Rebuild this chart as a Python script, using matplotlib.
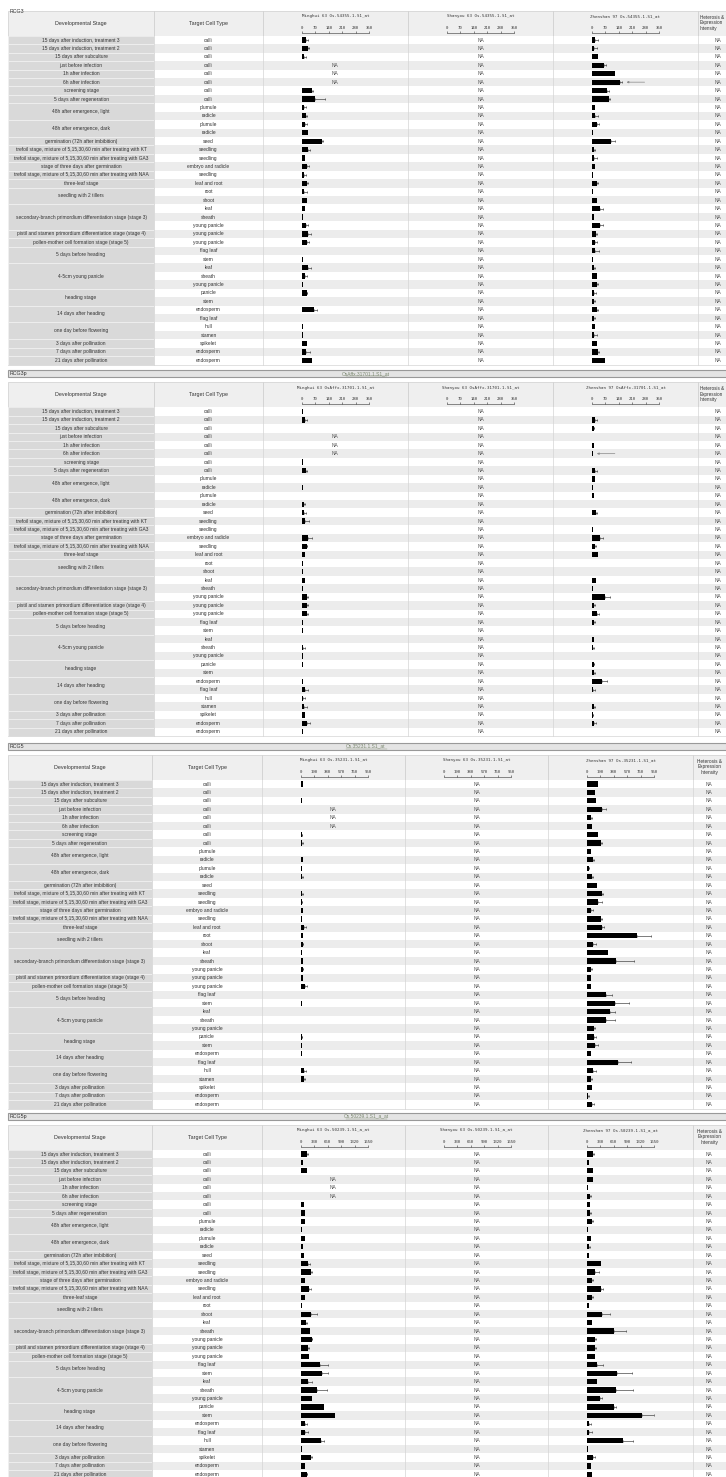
import numpy as np
import matplotlib.pyplot as plt
from matplotlib.patches import Rectangle

# ---- table rows (same in every panel) ----
stages = [("15 days after induction, treatment 3", 1),
          ("15 days after induction, treatment 2", 1),
          ("15 days after subculture", 1),
          ("just before infection", 1),
          ("1h after infection", 1),
          ("6h after infection", 1),
          ("screening stage", 1),
          ("5 days after regeneration", 1),
          ("48h after emergence, light", 2),
          ("48h after emergence, dark", 2),
          ("germination (72h after imbibition)", 1),
          ("trefoil stage, mixture of 5,15,30,60 min after treating with KT", 1),
          ("trefoil stage, mixture of 5,15,30,60 min after treating with GA3", 1),
          ("stage of three days after germination", 1),
          ("trefoil stage, mixture of 5,15,30,60 min after treating with NAA", 1),
          ("three-leaf stage", 1),
          ("seedling with 2 tillers", 2),
          ("secondary-branch primordium differentiation stage (stage 3)", 3),
          ("pistil and stamen primordium differentiation stage (stage 4)", 1),
          ("pollen-mother cell formation stage (stage 5)", 1),
          ("5 days before heading", 2),
          ("4-5cm young panicle", 3),
          ("heading stage", 2),
          ("14 days after heading", 2),
          ("one day before flowering", 2),
          ("3 days after pollination", 1),
          ("7 days after pollination", 1),
          ("21 days after pollination", 1)]

cell_types = ["calli", "calli", "calli", "calli", "calli", "calli", "calli", "calli",
              "plumule", "radicle", "plumule", "radicle", "seed", "seedling", "seedling",
              "embryo and radicle", "seedling", "leaf and root", "root", "shoot", "leaf",
              "sheath", "young panicle", "young panicle", "young panicle", "flag leaf", "stem",
              "leaf", "sheath", "young panicle", "panicle", "stem", "endosperm", "flag leaf",
              "hull", "stamen", "spikelet", "endosperm", "endosperm"]

panel_names = ["RCG3", "RCG3p", "RCG5", "RCG5p"]
probe_ids = ["Os.54355.1.S1_at", "OsAffx.31701.1.S1_at", "Os.35231.1.S1_at", "Os.50239.1.S1_a_at"]
axis_ticks = [[0, 70, 140, 210, 280, 350], [0, 70, 140, 210, 280, 350],
              [0, 190, 380, 570, 760, 950], [0, 330, 660, 990, 1320, 1650]]

nan = np.nan
# ---- expression values (NA = nan) and upper error ----
minghui_rcg3 = [22, 35, 12, nan, nan, nan, 52, 69, 12, 22, 17, 35, 104, 35, 17, 26, 14, 26, 14, 26,
                19, 5, 22, 35, 26, 3, 5, 35, 17, 9, 26, 3, 66, 3, 7, 7, 26, 21, 55]
minghui_rcg3_err = [13, 2, 8, 0, 0, 0, 8, 52, 8, 4, 9, 0, 8, 8, 0, 14, 7, 9, 15, 0,
                    0, 0, 11, 12, 12, 0, 0, 12, 12, 0, 3, 0, 14, 0, 0, 0, 0, 22, 0]
zhenshan_rcg3 = [19, 14, 33, 62, 123, 145, 81, 90, 19, 19, 29, 5, 100, 12, 14, 17, 5, 26, 5, 26,
                 43, 14, 43, 21, 17, 17, 9, 12, 26, 26, 12, 12, 26, 12, 17, 14, 26, 35, 69]
zhenshan_rcg3_err = [14, 14, 0, 11, 0, 14, 9, 3, 0, 14, 7, 0, 21, 4, 12, 0, 0, 9, 0, 0,
                     18, 0, 18, 8, 12, 21, 0, 4, 0, 9, 9, 7, 5, 4, 0, 12, 0, 5, 0]

minghui_rcg3p = [5, 17, 2, nan, nan, nan, 7, 22, 3, 9, 2, 12, 14, 17, 2, 35, 26, 16, 7, 9,
                 16, 7, 26, 26, 26, 7, 5, 2, 9, 7, 9, 3, 9, 17, 9, 12, 16, 26, 7]
minghui_rcg3p_err = [0, 9, 0, 0, 0, 0, 0, 6, 0, 0, 0, 7, 8, 21, 0, 19, 3, 0, 0, 0,
                     0, 0, 9, 7, 9, 0, 0, 0, 8, 0, 0, 0, 0, 16, 7, 14, 0, 17, 0]
zhenshan_rcg3p = [3, 17, 12, 2, 12, 5, 2, 17, 17, 9, 10, 2, 22, 3, 5, 43, 17, 31, 3, 2,
                  22, 5, 69, 14, 26, 10, 2, 14, 7, 3, 10, 12, 52, 9, 2, 12, 5, 14, 3]
zhenshan_rcg3p_err = [0, 9, 2, 0, 0, 0, 0, 9, 0, 0, 0, 0, 7, 0, 0, 18, 4, 0, 0, 0,
                      0, 0, 26, 5, 14, 6, 0, 0, 3, 0, 4, 7, 29, 7, 0, 5, 4, 7, 0]

minghui_rcg5 = [37, 9, 14, nan, nan, nan, 14, 23, 5, 37, 19, 23, 9, 23, 14, 37, 14, 51, 33, 28,
                14, 37, 28, 33, 61, 5, 19, 9, 9, 5, 14, 19, 23, 9, 51, 47, 5, 5, 5]
minghui_rcg5_err = [0, 0, 0, 0, 0, 0, 9, 9, 0, 0, 0, 5, 0, 14, 9, 0, 0, 19, 0, 9,
                    0, 0, 9, 0, 32, 0, 0, 0, 0, 0, 9, 0, 0, 0, 24, 14, 0, 0, 0]
zhenshan_rcg5 = [163, 117, 135, 219, 65, 79, 163, 196, 65, 89, 28, 70, 149, 219, 163, 65, 196,
                 219, 708, 93, 303, 419, 56, 65, 56, 266, 405, 322, 266, 103, 103, 112, 56, 443,
                 93, 56, 79, 23, 79]
zhenshan_rcg5_err = [0, 0, 0, 47, 14, 0, 0, 14, 0, 14, 9, 19, 0, 9, 56, 23, 14, 23, 201, 33,
                     0, 243, 14, 0, 0, 93, 187, 83, 130, 14, 32, 51, 0, 186, 33, 14, 0, 9, 19]

minghui_rcg5p = [162, 57, 162, nan, nan, nan, 89, 105, 97, 32, 97, 57, 73, 186, 243, 105, 202,
                 97, 40, 259, 138, 218, 267, 178, 202, 461, 526, 178, 405, 267, 566, 841, 97, 97,
                 502, 40, 243, 105, 146]
minghui_rcg5p_err = [24, 0, 0, 0, 0, 0, 0, 0, 0, 0, 0, 0, 0, 32, 40, 0, 41, 0, 0, 146,
                     16, 0, 16, 24, 0, 202, 146, 105, 226, 0, 0, 0, 49, 73, 64, 0, 24, 0, 16]
zhenshan_rcg5p = [162, 65, 146, 146, 40, 81, 81, 81, 138, 40, 105, 57, 57, 340, 202, 121, 340,
                  138, 57, 364, 121, 671, 202, 202, 202, 259, 752, 243, 728, 324, 671, 1351, 65,
                  57, 890, 32, 162, 97, 138]
zhenshan_rcg5p_err = [24, 0, 0, 0, 0, 24, 0, 24, 24, 0, 0, 16, 0, 0, 105, 25, 48, 24, 0, 202,
                      0, 300, 24, 24, 0, 129, 364, 0, 405, 56, 33, 291, 32, 72, 243, 0, 40, 0, 0]

panel_values = [(minghui_rcg3, minghui_rcg3_err, zhenshan_rcg3, zhenshan_rcg3_err),
                (minghui_rcg3p, minghui_rcg3p_err, zhenshan_rcg3p, zhenshan_rcg3p_err),
                (minghui_rcg5, minghui_rcg5_err, zhenshan_rcg5, zhenshan_rcg5_err),
                (minghui_rcg5p, minghui_rcg5p_err, zhenshan_rcg5p, zhenshan_rcg5p_err)]

# ---- layout (pixels) ----
W, H = 726, 1477
rh = 8.43
n = len(cell_types)
rows_top = [35.8, 407.3, 779.8, 1149.8]
col_edges = [[8, 154, 263, 408, 553, 698, 745], [8, 154, 263, 408, 553, 698, 745],
             [8, 152, 262, 405, 548, 693, 726], [8, 152, 262, 405, 548, 693, 726]]
arrow_rows = {0: 5, 1: 5}   # panel -> row with a marker arrow in the Zhenshan column

SANS = "Liberation Sans"
MONO = "DejaVu Sans Mono"
TXT = "#333333"
FS = 3.5

fig = plt.figure(figsize=(W / 100, H / 100), dpi=100)
bg = fig.add_axes([0, 0, 1, 1])
bg.set_xlim(0, W)
bg.set_ylim(H, 0)
bg.axis("off")


def fig_rect(x0, y0, w, h):
    return [x0 / W, 1 - (y0 + h) / H, w / W, h / H]


for p in range(4):
    top = rows_top[p]
    cols = col_edges[p]
    ht = top - 25
    bottom = top + n * rh

    # panel title bar
    if p == 0:
        bg.text(10, ht + 1, panel_names[p], fontsize=3.8, family=SANS, color=TXT, va="center")
    else:
        bg.add_patch(Rectangle((cols[0], ht - 12), W, 7, fc="#e4e4e4", ec="#999999", lw=0.8))
        bg.text(10, ht - 8.5, panel_names[p], fontsize=3.8, family=SANS, color=TXT, va="center")
        bg.text(366, ht - 8.5, probe_ids[p], fontsize=3.5, family=SANS, color="#7b8870",
                va="center", ha="center")
        bg.plot([346, 387], [ht - 6.3, ht - 6.3], color="#7b8870", lw=0.3)

    # header cells
    for j in range(6):
        bg.add_patch(Rectangle((cols[j], ht), cols[j + 1] - cols[j], 25,
                               fc="#efefef", ec="#cfcfcf", lw=0.5))
    bg.text((cols[0] + cols[1]) / 2, ht + 12.5, "Developmental Stage", fontsize=3.9,
            family=SANS, color=TXT, ha="center", va="center")
    bg.text((cols[1] + cols[2]) / 2, ht + 12.5, "Target Cell Type", fontsize=3.9,
            family=SANS, color=TXT, ha="center", va="center")
    for k, line in enumerate(["Heterosis &", "Expression", "Intensity"]):
        if p < 2:
            bg.text(cols[5] + 1.5, ht + 6.5 + k * 5.5, line, fontsize=3.3, family=SANS,
                    color=TXT, ha="left", va="center")
        else:
            bg.text((cols[5] + cols[6]) / 2, ht + 6.5 + k * 5.5, line, fontsize=3.4,
                    family=SANS, color=TXT, ha="center", va="center")
    for j, line in zip([2, 3, 4], ["Minghui 63 ", "Shanyou 63 ", "Zhenshan 97 "]):
        bg.text((cols[j] + cols[j + 1]) / 2, ht + 5.5, line + probe_ids[p], fontsize=3.0,
                family=MONO, color=TXT, ha="center", va="center")

        # expression scale in the header
        sx = fig.add_axes(fig_rect(cols[j] + 38.7, ht + 22, 67.5, 0.01))
        sx.set_xlim(0, axis_ticks[p][-1])
        sx.set_xticks(axis_ticks[p])
        sx.xaxis.tick_top()
        sx.tick_params(axis="x", direction="out", length=1.6, width=0.4, pad=0.6,
                       labelsize=2.9, colors="#333333")
        for lbl in sx.get_xticklabels():
            lbl.set_family(MONO)
        sx.set_yticks([])
        for side in ["left", "right", "bottom"]:
            sx.spines[side].set_visible(False)
        sx.spines["top"].set_linewidth(0.4)
        sx.spines["top"].set_color("#333333")
        sx.patch.set_visible(False)

    # body rows
    for i in range(n):
        y = top + i * rh
        bg.add_patch(Rectangle((cols[1], y), cols[-1] - cols[1], rh,
                               fc="white" if i % 2 == 0 else "#ececec", ec="none"))
        bg.text((cols[1] + cols[2]) / 2, y + rh / 2, cell_types[i], fontsize=FS,
                family=SANS, color=TXT, ha="center", va="center")
        bg.text((cols[3] + cols[4]) / 2, y + rh / 2, "NA", fontsize=FS,
                family=SANS, color="#555555", ha="center", va="center")
        bg.text((cols[5] + cols[6]) / 2 if p >= 2 else 718, y + rh / 2, "NA", fontsize=FS,
                family=SANS, color="#555555", ha="center", va="center")

    r = 0
    for label, span in stages:
        y = top + r * rh
        bg.add_patch(Rectangle((cols[0], y), cols[1] - cols[0], span * rh,
                               fc="#d9d9d9", ec="#f2f2f2", lw=0.5))
        bg.text((cols[0] + cols[1]) / 2, y + span * rh / 2, label, fontsize=FS,
                family=SANS, color=TXT, ha="center", va="center")
        r += span

    for x in cols[1:-1]:
        bg.plot([x, x], [ht, bottom], color="#d4d4d4", lw=0.5)
    bg.plot([cols[0], cols[-1]], [bottom, bottom], color="#d4d4d4", lw=0.5)

    # bars for Minghui 63 and Zhenshan 97
    mh, mh_err, zs, zs_err = panel_values[p]
    for j, vals, errs in [(2, mh, mh_err), (4, zs, zs_err)]:
        ax = fig.add_axes(fig_rect(cols[j] + 38.7, top, 67.5, n * rh))
        ax.set_xlim(0, axis_ticks[p][-1])
        ax.set_ylim(n - 0.5, -0.5)
        ax.axis("off")
        ax.patch.set_visible(False)
        vals = np.array(vals, dtype=float)
        errs = np.array(errs, dtype=float)
        yy = np.arange(n)
        ok = ~np.isnan(vals)
        ax.barh(yy[ok], vals[ok], height=0.62, color="black", lw=0)
        e = ok & (errs > 0)
        ax.errorbar(vals[e], yy[e], xerr=[np.zeros(e.sum()), errs[e]], fmt="none",
                    ecolor="#333333", elinewidth=0.45, capsize=0.9, capthick=0.45)
        for i in yy[~ok]:
            bg.text((cols[j] + cols[j + 1]) / 2, top + (i + 0.5) * rh, "NA", fontsize=FS,
                    family=SANS, color="#555555", ha="center", va="center")
        if j == 4 and p in arrow_rows:
            i = arrow_rows[p]
            ax.annotate("", xy=(vals[i] + errs[i], i), xytext=(16, 0),
                        textcoords="offset points",
                        arrowprops=dict(arrowstyle="-|>", color="#888888", lw=0.5,
                                        mutation_scale=3, shrinkA=0, shrinkB=3))

fig.savefig("out.png", dpi=100)
